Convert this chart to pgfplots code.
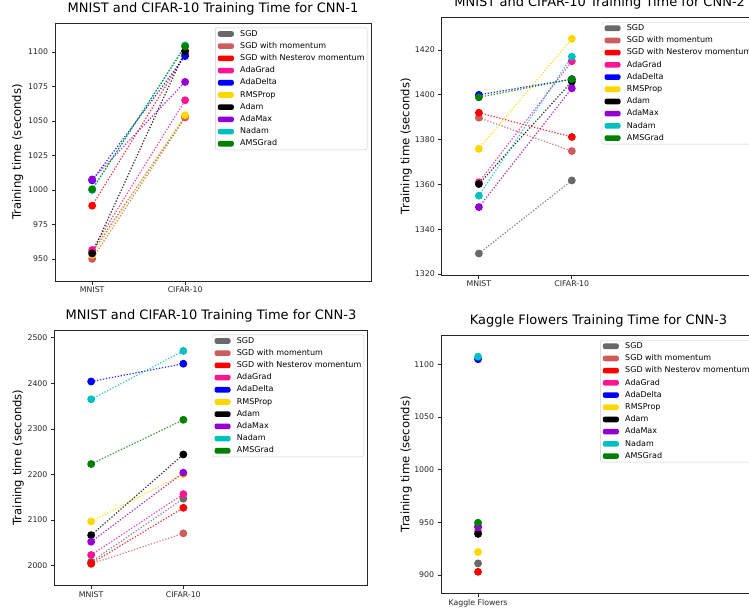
\documentclass[border=0pt]{standalone}
\usepackage{pgfplots}
\usepackage{pgfplotstable}
\pgfplotsset{compat=1.18}
\usepackage{fontspec}
\setmainfont{DejaVu Sans}

\definecolor{cSGD}{HTML}{696969}
\definecolor{cMom}{HTML}{CD5C5C}
\definecolor{cNest}{HTML}{FF0000}
\definecolor{cAdaGrad}{HTML}{FF1493}
\definecolor{cAdaDelta}{HTML}{0000FF}
\definecolor{cRMS}{HTML}{FFD700}
\definecolor{cAdam}{HTML}{000000}
\definecolor{cAdaMax}{HTML}{9400D3}
\definecolor{cNadam}{HTML}{00BFBF}
\definecolor{cAMS}{HTML}{008000}

\pgfplotstableread{
x SGD Mom Nest AdaGrad AdaDelta RMSProp Adam AdaMax Nadam AMSGrad
0 955 950 988.6 956.5 1007 953 954 1007.6 1000 1000.5
1 1053 1052.5 1098.3 1065 1097 1054.2 1100.7 1078.3 1104.8 1104
}\cnnone

\pgfplotstableread{
x SGD Mom Nest AdaGrad AdaDelta RMSProp Adam AdaMax Nadam AMSGrad
0 1329.2 1389.8 1392 1361 1400 1375.9 1360.2 1349.9 1355 1398.9
1 1361.8 1374.9 1381.2 1415 1407 1425 1405.9 1402.9 1417 1407
}\cnntwo

\pgfplotstableread{
x SGD Mom Nest AdaGrad AdaDelta RMSProp Adam AdaMax Nadam AMSGrad
0 2008.8 2004 2005 2023.5 2404 2097 2067 2052.6 2365 2223
1 2147 2071 2127 2157 2443 2201 2244 2204 2471 2320
}\cnnthree

\pgfplotstableread{
x SGD Mom Nest AdaGrad AdaDelta RMSProp Adam AdaMax Nadam AMSGrad
0 911 941.5 903 946.5 1104.8 921.8 939 945.3 1107.2 949.6
}\kaggle

\pgfplotsset{
  optline/.style={forget plot, line width=1.2pt, dash pattern=on 1.3pt off 1.7pt,
    draw opacity=0.8, mark=*, mark size=3.3pt},
  patch legend/.style={legend image code/.code={\fill[##1,draw=none] (0pt,-2.8pt) rectangle (16pt,2.8pt);}},
  panel/.style={
    scale only axis,
    xmin=-0.4, xmax=3,
    axis line style={draw=black!85, line width=0.8pt},
    xtick pos=lower, ytick pos=left,
    tick align=outside,
    major tick length=3.5pt,
    every tick/.style={draw=black!85, line width=0.8pt},
    ticklabel style={font=\fontsize{7.8}{9}\selectfont, color=black!85},
    yticklabel style={inner sep=0pt, anchor=east, xshift=-3.2pt},
    xticklabel style={inner sep=0pt, anchor=north, yshift=-2.5pt},
    /pgf/number format/assume math mode=true,
    /pgf/number format/.cd, 1000 sep={}, /pgfplots/.cd,
    title style={font=\fontsize{13}{15}\selectfont, at={(0.5,1)}, anchor=base, yshift=4.5pt},
    ylabel={Training time (seconds)},
    ylabel style={font=\fontsize{11.6}{13}\selectfont, at={(axis description cs:0,0.5)}, anchor=base},
    legend cell align=left,
    legend style={at={(1,1)}, anchor=north east, xshift=-3.7pt, yshift=-4.7pt,
      draw=black!20, rounded corners=2pt, fill=white,
      font=\fontsize{8}{9.6}\selectfont,
      inner xsep=2.5pt, inner ysep=2.2pt,
      row sep=4.5pt, column sep=6.4pt,
      nodes={inner sep=0pt, text height=6pt, text depth=1.7pt}},
  }
}

\newcommand{\ser}[3]{\addplot[optline, color=#1, mark options={solid, draw=none, fill=#1, opacity=1}] table[x=x, y=#2] {#3};}
\newcommand{\allseries}[1]{%
  \ser{cSGD}{SGD}{#1}
  \ser{cMom}{Mom}{#1}
  \ser{cNest}{Nest}{#1}
  \ser{cAdaGrad}{AdaGrad}{#1}
  \ser{cAdaDelta}{AdaDelta}{#1}
  \ser{cRMS}{RMSProp}{#1}
  \ser{cAdam}{Adam}{#1}
  \ser{cAdaMax}{AdaMax}{#1}
  \ser{cNadam}{Nadam}{#1}
  \ser{cAMS}{AMSGrad}{#1}
}
\newcommand{\legendall}{%
  \addlegendimage{patch legend, fill=cSGD}\addlegendentry{SGD}
  \addlegendimage{patch legend, fill=cMom}\addlegendentry{SGD with momentum}
  \addlegendimage{patch legend, fill=cNest}\addlegendentry{SGD with Nesterov momentum}
  \addlegendimage{patch legend, fill=cAdaGrad}\addlegendentry{AdaGrad}
  \addlegendimage{patch legend, fill=cAdaDelta}\addlegendentry{AdaDelta}
  \addlegendimage{patch legend, fill=cRMS}\addlegendentry{RMSProp}
  \addlegendimage{patch legend, fill=cAdam}\addlegendentry{Adam}
  \addlegendimage{patch legend, fill=cAdaMax}\addlegendentry{AdaMax}
  \addlegendimage{patch legend, fill=cNadam}\addlegendentry{Nadam}
  \addlegendimage{patch legend, fill=cAMS}\addlegendentry{AMSGrad}
}

\begin{document}
\begin{tikzpicture}
\useasboundingbox (0pt,0pt) rectangle (749pt,-611pt);
\clip (0pt,0pt) rectangle (749pt,-611pt);

\begin{axis}[panel, at={(55pt,-23pt)}, anchor=north west, width=316pt, height=258pt,
  ymin=934, ymax=1121, ytick={950,975,...,1100},
  xtick={0,1}, xticklabels={MNIST,CIFAR-10},
  title={MNIST and CIFAR-10 Training Time for CNN-1},
  ylabel style={yshift=34pt}]
\allseries{\cnnone}
\legendall
\end{axis}

\begin{axis}[panel, at={(441.7pt,-17.3pt)}, anchor=north west, width=316pt, height=257.7pt,
  ymin=1319.6, ymax=1434.6, ytick={1320,1340,...,1420},
  xtick={0,1}, xticklabels={MNIST,CIFAR-10},
  title={MNIST and CIFAR-10 Training Time for CNN-2},
  ylabel style={yshift=32.4pt}]
\allseries{\cnntwo}
\legendall
\end{axis}

\begin{axis}[panel, at={(54.3pt,-330pt)}, anchor=north west, width=313.4pt, height=255pt,
  ymin=1957.7, ymax=2516.9, ytick={2000,2100,...,2500},
  xtick={0,1}, xticklabels={MNIST,CIFAR-10},
  title={MNIST and CIFAR-10 Training Time for CNN-3},
  ylabel style={yshift=33pt}]
\allseries{\cnnthree}
\legendall
\end{axis}

\begin{axis}[panel, at={(441pt,-335.3pt)}, anchor=north west, width=315pt, height=258pt,
  ymin=882.6, ymax=1127.5, ytick={900,950,...,1100},
  xtick={0}, xticklabels={Kaggle Flowers},
  title={Kaggle Flowers Training Time for CNN-3},
  ylabel style={yshift=31.7pt}]
\allseries{\kaggle}
\legendall
\end{axis}
\end{tikzpicture}
\end{document}
